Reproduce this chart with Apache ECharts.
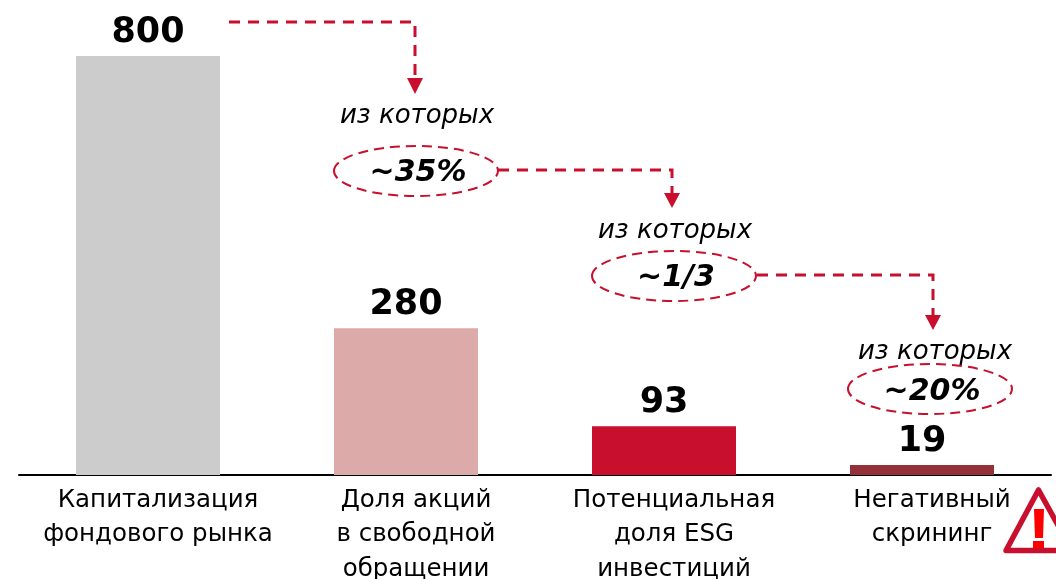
<!DOCTYPE html>
<html>
<head>
<meta charset="utf-8">
<title>ESG</title>
<script src="https://cdn.jsdelivr.net/npm/echarts@6/dist/echarts.min.js"></script>
<style>
  html, body { margin: 0; padding: 0; background: #fff; }
  #chart { width: 1056px; height: 579px; }
</style>
</head>
<body>
<div id="chart"></div>
<script>
const categories = [
  "Капитализация\nфондового рынка",
  "Доля акций\nв свободной\nобращении",
  "Потенциальная\nдоля ESG\nинвестиций",
  "Негативный\nскрининг"
];
const values = [800, 280, 93, 19];
const barColors = ["#cccccc", "#ddaaaa", "#c8102e", "#943038"];
const shareLabels = ["~35%", "~1/3", "~20%"];
const ofWhich = "из которых";

const RED = "#c8102e";
const FONT = "'DejaVu Sans', sans-serif";

// dashed connectors between the bars
const dashed = (points) => ({
  type: "polyline",
  shape: { points },
  style: { stroke: RED, lineWidth: 3, lineDash: [11, 8], fill: null }
});
const arrow = (x, y1, y2) => ({
  type: "polygon",
  shape: { points: [[x - 8, y1], [x + 8, y1], [x, y2]] },
  style: { fill: RED }
});
const oval = (cx, cy, rx, ry) => ({
  type: "ellipse",
  shape: { cx, cy, rx, ry },
  style: { stroke: RED, lineWidth: 2, lineDash: [10, 6], fill: null }
});
const note = (x, y, text, fontSize, fontWeight) => ({
  type: "text",
  x,
  y,
  style: {
    text,
    fontFamily: FONT,
    fontSize,
    fontWeight,
    fontStyle: "italic",
    fill: "#000",
    align: "center",
    verticalAlign: "middle"
  }
});

const chart = echarts.init(document.getElementById("chart"));
chart.setOption({
  animation: false,
  grid: { left: 19, right: 5, top: 56, bottom: 104, outerBoundsMode: "none" },
  xAxis: {
    type: "category",
    data: categories,
    axisTick: { show: false },
    axisLine: { lineStyle: { color: "#000", width: 2 } },
    axisLabel: {
      color: "#000",
      fontFamily: FONT,
      fontSize: 24.5,
      lineHeight: 34.5,
      margin: 8,
      interval: 0,
      // text sits a little right of the bar centre
      padding: [0, 0, 0, 20]
    }
  },
  yAxis: { type: "value", min: 0, max: 800, show: false },
  series: [
    {
      type: "bar",
      barWidth: 144,
      data: values.map((value, i) => ({
        value,
        itemStyle: { color: barColors[i] }
      })),
      label: {
        show: true,
        position: "top",
        distance: 6,
        color: "#000",
        fontFamily: FONT,
        fontWeight: "bold",
        fontSize: 35
      }
    }
  ],
  graphic: [
    dashed([[229, 22], [415, 22], [415, 78]]),
    arrow(415, 78, 94),
    note(417, 116, ofWhich, 26, "normal"),
    oval(416, 171, 82, 25),
    note(418, 173, shareLabels[0], 30, "bold"),

    dashed([[498, 170], [672, 170], [672, 193]]),
    arrow(672, 193, 208),
    note(675, 231, ofWhich, 26, "normal"),
    oval(674, 276, 82, 25),
    note(676, 278, shareLabels[1], 30, "bold"),

    dashed([[757, 275], [933, 275], [933, 315]]),
    arrow(933, 315, 330),
    note(935, 352, ofWhich, 26, "normal"),
    oval(930, 389, 82, 25),
    note(932, 392, shareLabels[2], 30, "bold"),

    // warning sign
    {
      type: "polygon",
      shape: { points: [[1038.5, 490], [1072, 550.5], [1006, 550.5]] },
      style: { fill: "#fff", stroke: RED, lineWidth: 5.5, lineJoin: "round" }
    },
    {
      type: "polygon",
      shape: { points: [[1034, 509], [1044, 509], [1043, 538], [1035, 538]] },
      style: { fill: "#ff0000" }
    },
    {
      type: "rect",
      shape: { x: 1033, y: 541, width: 11, height: 7 },
      style: { fill: "#ff0000" }
    }
  ]
});
</script>
</body>
</html>
